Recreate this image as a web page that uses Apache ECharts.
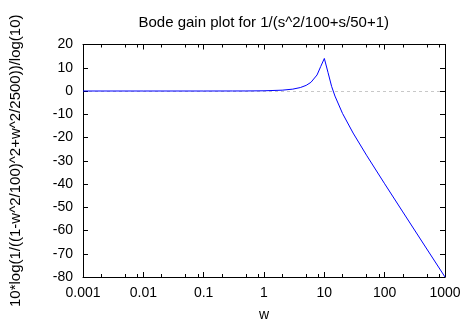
<!DOCTYPE html>
<html>
<head>
<meta charset="utf-8">
<script src="https://cdn.jsdelivr.net/npm/echarts@6/dist/echarts.min.js"></script>
<style>
  html, body { margin: 0; padding: 0; background: #fff; }
  #chart { width: 467px; height: 327px; }
</style>
</head>
<body>
<div id="chart"></div>
<script>
// Frequency samples (rad/s) and the gain in dB at each one
const freqW = [0.001, 0.01, 0.1, 0.3, 0.5, 1, 2, 3, 4, 5, 6, 7.57, 8.7, 10, 11.5, 13.2, 15, 20, 30, 50, 100, 200, 500, 1000];
const gainDb = [0, 0, 0, 0.01, 0.02, 0.09, 0.35, 0.8, 1.48, 2.42, 3.73, 6.9, 10.5, 14.0, 8.0, 2.0, -2.18, -9.62, -18.09, -27.61, -39.91, -52.02, -67.96, -80.0];

// Axis ticks
const xTickValues = [0.001, 0.01, 0.1, 1, 10, 100, 1000];
const xTickLabels = ['0.001', '0.01', '0.1', '1', '10', '100', '1000'];
// minor tick positions within each decade
const minorMantissas = [2, 5, 8];

const titleText = 'Bode gain plot for 1/(s^2/100+s/50+1)';
const xName = 'w';
const yName = '10*log(1/((1-w^2/100)^2+w^2/2500))/log(10)';

const FONT = 'Liberation Sans';
const grid = { left: 82.5, right: 22, top: 44.5, bottom: 49 };

const minorTicks = [];
for (let d = -3; d < 3; d++) {
  minorMantissas.forEach(m => minorTicks.push(d + Math.log10(m)));
}

const axisLineStyle = { color: '#000', width: 1 };

function xLogAxis(pos, withLabels) {
  return {
    type: 'log', logBase: 10, min: 0.001, max: 1000, position: pos,
    axisLine: { show: true, onZero: false, lineStyle: axisLineStyle },
    axisTick: { show: true, inside: true, length: 5, lineStyle: axisLineStyle },
    axisLabel: {
      show: withLabels, margin: 9, fontFamily: FONT, fontSize: 14, color: '#000',
      formatter: v => {
        const i = xTickValues.findIndex(t => Math.abs(Math.log10(t) - Math.log10(v)) < 1e-6);
        return i >= 0 ? xTickLabels[i] : '';
      }
    },
    splitLine: { show: false },
    minorTick: { show: false },
    name: withLabels ? xName : '',
    nameLocation: 'middle', nameGap: 31,
    nameTextStyle: { fontFamily: FONT, fontSize: 14, color: '#000' }
  };
}

function xMinorAxis(pos) {
  return {
    type: 'value', min: -3, max: 3, position: pos,
    axisLine: { show: false, onZero: false },
    axisTick: { show: true, inside: true, length: 3, customValues: minorTicks, lineStyle: axisLineStyle },
    axisLabel: { show: false },
    splitLine: { show: false }
  };
}

function yAxisDef(pos, withLabels) {
  return {
    type: 'value', min: -80, max: 20, interval: 10, position: pos,
    axisLine: { show: true, onZero: false, lineStyle: axisLineStyle },
    axisTick: { show: true, inside: true, length: 5, lineStyle: axisLineStyle },
    axisLabel: { show: withLabels, margin: 10, fontFamily: FONT, fontSize: 14, color: '#000' },
    splitLine: { show: false },
    name: withLabels ? yName : '',
    nameLocation: 'middle', nameGap: 60, nameRotate: 90,
    nameTextStyle: { fontFamily: FONT, fontSize: 15, color: '#000' }
  };
}

const chart = echarts.init(document.getElementById('chart'), null, { renderer: 'canvas' });
chart.setOption({
  animation: false,
  backgroundColor: '#fff',
  grid: grid,
  graphic: [{
    type: 'text',
    x: grid.left + (467 - grid.left - grid.right) / 2,
    y: 23,
    style: {
      text: titleText, fontFamily: FONT, fontSize: 15, fill: '#000',
      textAlign: 'center', textVerticalAlign: 'middle'
    }
  }],
  xAxis: [xLogAxis('bottom', true), xLogAxis('top', false), xMinorAxis('bottom'), xMinorAxis('top')],
  yAxis: [
    yAxisDef('left', true),
    yAxisDef('right', false),
    {
      // zero reference line
      type: 'value', min: -80, max: 20, interval: 80, position: 'left',
      axisLine: { show: false, onZero: false }, axisTick: { show: false }, axisLabel: { show: false },
      splitLine: { show: true, lineStyle: { color: '#c8c8c8', type: [3, 3], width: 1 } }
    }
  ],
  series: [{
    type: 'line',
    xAxisIndex: 0, yAxisIndex: 0,
    data: freqW.map((w, i) => [w, gainDb[i]]),
    showSymbol: false,
    smooth: false,
    lineStyle: { color: '#0000ff', width: 1 },
    z: 5
  }]
});
</script>
</body>
</html>
